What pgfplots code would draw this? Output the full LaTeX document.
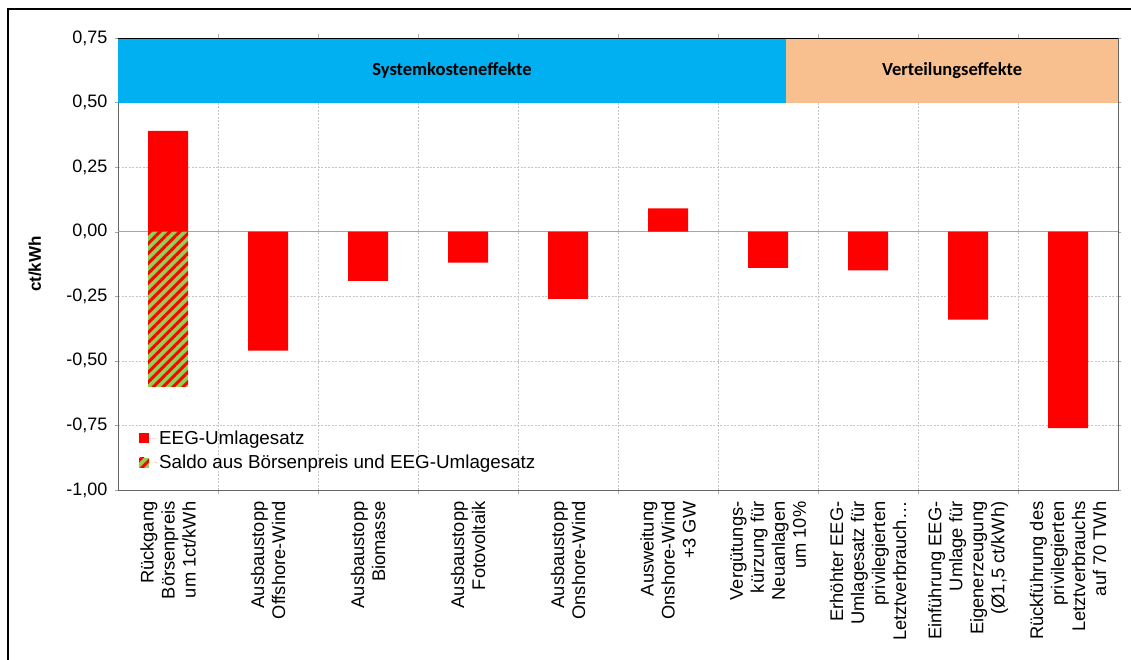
\documentclass[border=0pt]{standalone}
\usepackage{pgfplots}
\pgfplotsset{compat=1.18}
\usepackage{fontspec}
\setmainfont{Liberation Sans}
\newfontfamily\bandfont{Carlito}
\usetikzlibrary{patterns.meta}
\definecolor{eegred}{RGB}{255,0,0}
\definecolor{saldogreen}{RGB}{146,208,80}
\definecolor{sysblue}{RGB}{0,176,240}
\definecolor{vertorange}{RGB}{249,192,143}
\begin{document}
\begin{tikzpicture}[x=1pt,y=1pt]
\useasboundingbox (0,0) rectangle (1131,659);
\fill[white] (0,0) rectangle (1131,659);
\draw[line width=2pt] (8,-5) -- (8,650) -- (1136,650);
\begin{axis}[
  at={(118pt,169pt)}, anchor=south west,
  scale only axis, width=1000pt, height=452pt,
  xmin=-0.5, xmax=9.5, ymin=-1, ymax=0.75,
  ytick={-1,-0.75,-0.5,-0.25,0,0.25,0.5,0.75},
  /pgf/number format/.cd, fixed, fixed zerofill, precision=2, use comma, assume math mode=true,
  /pgfplots/.cd,
  yticklabel style={font=\fontsize{18}{21}\selectfont, xshift=-4pt},
  ymajorgrids,
  major grid style={gray!45, dash pattern=on 2pt off 1.5pt, line width=0.7pt},
  minor grid style={gray!45, dash pattern=on 2pt off 1.5pt, line width=0.7pt},
  xtick={0,1,2,3,4,5,6,7,8,9},
  minor xtick={0.5,1.5,2.5,3.5,4.5,5.5,6.5,7.5,8.5},
  xminorgrids,
  x tick style={draw=none},
  minor x tick style={draw=gray!60},
  minor tick length=4pt,
  y tick style={draw=gray!70},
  tick align=outside,
  major tick length=3pt,
  xticklabels={
    {Rückgang\\Börsenpreis\\um 1ct/kWh},
    {Ausbaustopp\\Offshore-Wind},
    {Ausbaustopp\\Biomasse},
    {Ausbaustopp\\Fotovoltaik},
    {Ausbaustopp\\Onshore-Wind},
    {Ausweitung\\Onshore-Wind\\+3 GW},
    {Vergütungs-\\kürzung für\\Neuanlagen\\um 10\%},
    {Erhöhter EEG-\\Umlagesatz für\\privilegierten\\Letztverbrauch…},
    {Einführung EEG-\\Umlage für\\Eigenerzeugung\\(Ø1,5 ct/kWh)},
    {Rückführung des\\privilegierten\\Letztverbrauchs\\auf 70 TWh}},
  xticklabel style={rotate=90, anchor=east, xshift=-5pt, align=right, font=\fontsize{18.3}{21}\selectfont},
  axis line style={gray!80!black, line width=0.8pt},
  ylabel={ct/kWh},
  ylabel style={font=\bfseries\fontsize{17}{20}\selectfont, at={(axis description cs:-0.083,0.5)}, anchor=center},
  legend style={at={(0.018,0.14)}, anchor=north west, draw=none, fill=none,
    font=\fontsize{18.8}{22}\selectfont, legend cell align=left, row sep=5pt},
  legend image code/.code={\path[#1] (0pt,-5pt) rectangle (10pt,5pt); \path (0pt,0pt) -- (18pt,0pt);},
]
\fill[sysblue] (axis cs:-0.5,0.5) rectangle (axis cs:6.18,0.75);
\fill[vertorange] (axis cs:6.18,0.5) rectangle (axis cs:9.5,0.75);
\node[font=\bandfont\bfseries\fontsize{18.5}{22}\selectfont] at (axis cs:2.84,0.625) {Systemkosteneffekte};
\node[font=\bandfont\bfseries\fontsize{18.5}{22}\selectfont] at (axis cs:7.84,0.625) {Verteilungseffekte};
\draw[black, line width=0.8pt] (axis cs:-0.5,0.75) -- (axis cs:9.5,0.75);
\draw[gray!70, line width=0.8pt] (axis cs:-0.5,0) -- (axis cs:9.5,0);
\addplot[ybar, bar width=40pt, bar shift=0pt, fill=eegred, draw=none]
  coordinates {(0,0.39) (1,-0.46) (2,-0.19) (3,-0.12) (4,-0.26) (5,0.09) (6,-0.14) (7,-0.15) (8,-0.34) (9,-0.76)};
\addlegendentry{EEG-Umlagesatz}
\addplot[ybar, bar width=40pt, bar shift=0pt, fill=saldogreen, draw=none,
  postaction={pattern={Lines[angle=45,distance=7pt,line width=3pt]}, pattern color=eegred}]
  coordinates {(0,-0.60)};
\addlegendentry{Saldo aus Börsenpreis und EEG-Umlagesatz}
\end{axis}
\end{tikzpicture}
\end{document}
